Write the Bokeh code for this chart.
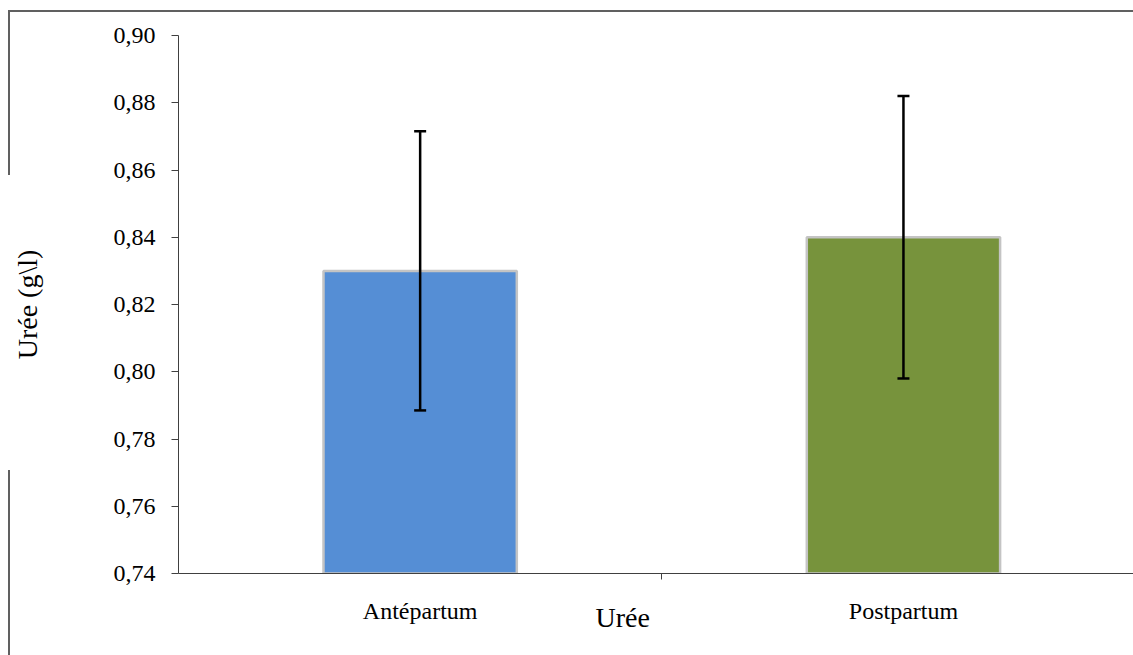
from bokeh.plotting import figure
from bokeh.models import (ColumnDataSource, Whisker, TeeHead, FixedTicker, Range1d,
                          Title, CustomJSTickFormatter)
from bokeh.embed import file_html
from bokeh.resources import INLINE

# Mean urea concentration (g/l) before and after calving, with error bars
categories = ["Antépartum", "Postpartum"]
means = [0.83, 0.84]
errors = [0.0415, 0.042]
bar_colors = ["#558ED5", "#77933C"]
y_ticks = [0.74, 0.76, 0.78, 0.80, 0.82, 0.84, 0.86, 0.88, 0.90]
x_title = "Urée"
y_title = "Urée (g\\l)"

Y_MIN, Y_MAX = y_ticks[0], y_ticks[-1]
FONT = "Liberation Serif"

# frame placement on the canvas (pixels)
W, H = 1133, 655
FRAME_L, FRAME_T, FRAME_B = 178, 35, 573

positions = [i + 0.5 for i in range(len(categories))]
boundaries = [i + 1.0 for i in range(len(categories) - 1)]

src = ColumnDataSource(dict(
    x=positions,
    top=means,
    color=bar_colors,
    upper=[m + e for m, e in zip(means, errors)],
    lower=[m - e for m, e in zip(means, errors)],
))

# thin grey chart border (top edge and a left edge interrupted by the axis title),
# painted as CSS backgrounds behind a transparent canvas
border_css = {
    "background-color": "white",
    "background-image": ", ".join(["linear-gradient(#606060, #606060)"] * 3),
    "background-size": "1130px 2px, 2px 165px, 2px 190px",
    "background-position": "8px 10px, 8px 10px, 8px 470px",
    "background-repeat": "no-repeat",
}

p = figure(width=W, height=H, output_backend="svg", toolbar_location=None,
           x_range=Range1d(0, 1.976), y_range=Range1d(Y_MIN, Y_MAX),
           min_border_left=FRAME_L, min_border_right=0, min_border_top=FRAME_T,
           min_border_bottom=H - FRAME_B, styles=border_css)
p.outline_line_color = None
p.xgrid.visible = False
p.ygrid.visible = False
p.background_fill_color = "white"
p.border_fill_color = None

# bars rise from the bottom of the value axis
p.vbar(x="x", top="top", bottom=Y_MIN, width=0.40, source=src,
       fill_color="color", line_color="#C4C4C4", line_width=2.5)

whisk = Whisker(base="x", upper="upper", lower="lower", source=src,
                line_color="black", line_width=2.5, level="overlay",
                upper_head=TeeHead(size=12, line_color="black", line_width=2.5),
                lower_head=TeeHead(size=12, line_color="black", line_width=2.5))
p.add_layout(whisk)

# value axis
yax = p.yaxis[0]
yax.ticker = FixedTicker(ticks=y_ticks)
yax.formatter = CustomJSTickFormatter(code="return tick.toFixed(2).replace('.', ',');")
yax.major_tick_out = 7
yax.major_tick_in = 0
yax.minor_tick_out = 0
yax.minor_tick_in = 0
yax.major_label_standoff = 16
yax.axis_line_color = "#404040"
yax.major_tick_line_color = "#404040"
yax.major_label_text_font = FONT
yax.major_label_text_font_size = "24px"
yax.major_label_text_color = "black"
yax.axis_label = y_title
yax.axis_label_standoff = 68
yax.axis_label_text_font = FONT
yax.axis_label_text_font_size = "28px"
yax.axis_label_text_font_style = "normal"
yax.axis_label_text_color = "black"

# category axis: labels at bar centres, tick marks between categories
xax = p.xaxis[0]
xax.ticker = FixedTicker(ticks=positions, minor_ticks=boundaries)
xax.major_label_overrides = {pos: cat for pos, cat in zip(positions, categories)}
xax.major_tick_out = 0
xax.major_tick_in = 0
xax.minor_tick_out = 6
xax.minor_tick_in = 0
xax.major_label_standoff = 18
xax.axis_line_color = "#404040"
xax.minor_tick_line_color = "#404040"
xax.major_label_text_font = FONT
xax.major_label_text_font_size = "24px"
xax.major_label_text_color = "black"

# category-axis title, left of the frame centre and tucked up against the labels
p.add_layout(Title(text=x_title, align="left", offset=417, standoff=-50,
                   vertical_align="top",
                   text_font=FONT, text_font_size="28px", text_font_style="normal",
                   text_color="black"), "below")

open("out.html", "w").write(file_html(p, INLINE))
